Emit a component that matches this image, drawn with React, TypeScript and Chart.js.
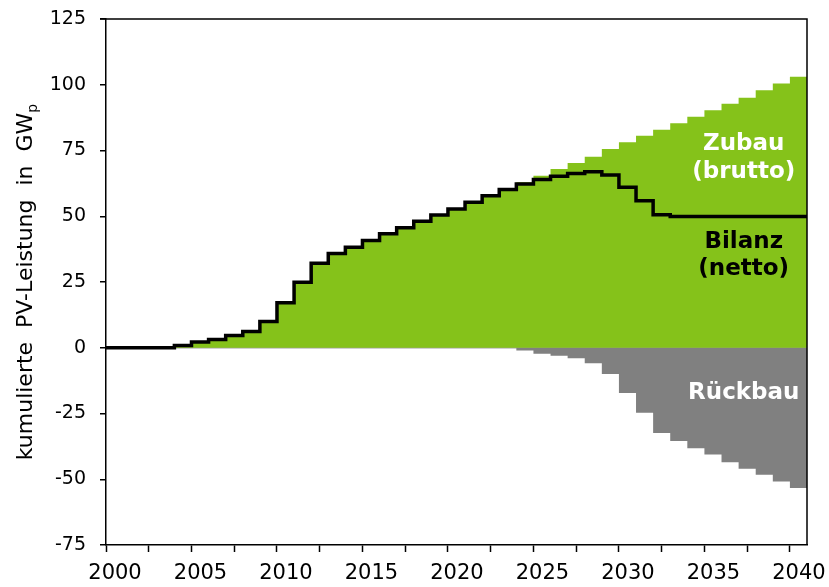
import React, { useEffect, useRef } from 'react';
import { Chart, registerables } from 'chart.js';

Chart.register(...registerables);

// ---- Data ----
const years = [
  2000, 2001, 2002, 2003, 2004, 2005, 2006, 2007, 2008, 2009,
  2010, 2011, 2012, 2013, 2014, 2015, 2016, 2017, 2018, 2019,
  2020, 2021, 2022, 2023, 2024, 2025, 2026, 2027, 2028, 2029,
  2030, 2031, 2032, 2033, 2034, 2035, 2036, 2037, 2038, 2039,
  2040,
];

// Bilanz (netto): cumulative net PV capacity, GWp
const bilanzNetto = [
  0, 0, 0, 0, 0.9, 2.2, 3.1, 4.7, 6.2, 10.0,
  17.1, 24.9, 32.1, 35.8, 38.2, 40.8, 43.3, 45.6, 48.1, 50.5,
  52.8, 55.3, 57.8, 60.2, 62.3, 64.0, 65.2, 66.3, 66.9, 65.7,
  61.0, 55.9, 50.6, 49.9, 49.9, 49.9, 49.9, 49.9, 49.9, 49.9,
  49.9,
];

// Zubau (brutto): cumulative gross additions, GWp
const zubauBrutto = [
  0, 0, 0, 0, 0.9, 2.2, 3.1, 4.7, 6.2, 10.0,
  17.1, 24.9, 32.1, 35.8, 38.2, 40.8, 43.3, 45.6, 48.1, 50.5,
  52.8, 55.3, 57.8, 60.2, 62.9, 65.4, 68.0, 70.2, 72.6, 75.6,
  78.1, 80.6, 82.9, 85.4, 87.8, 90.3, 92.8, 95.1, 97.9, 100.5,
  103.0,
];

// Rückbau: cumulative decommissioning, GWp (negative)
const rueckbau = [
  0, 0, 0, 0, 0, 0, 0, 0, 0, 0,
  0, 0, 0, 0, 0, 0, 0, 0, 0, 0,
  0, 0, 0, 0, -1.0, -2.3, -3.0, -4.0, -5.9, -10.0,
  -17.2, -24.7, -32.4, -35.5, -38.2, -40.6, -43.5, -46.0, -48.3, -50.9,
  -53.3,
];

const xMin = 2000;
const xMax = 2041;
const yMin = -75;
const yMax = 125;
const yStep = 25;
const xMinorStep = 2.5;
const xLabelStep = 5;

const axisTitle = 'kumulierte  PV-Leistung  in  GW';
const axisTitleSub = 'p';

const GREEN = '#85C21A';
const GRAY = '#808080';
const FONT = '"DejaVu Sans", Verdana, sans-serif';

function toPoints(vals: number[]) {
  const pts = years.map((yr, i) => ({ x: yr, y: vals[i] }));
  pts.push({ x: xMax, y: vals[vals.length - 1] });
  return pts;
}

const framePlugin = {
  id: 'frame',
  afterDatasetsDraw(chart: any) {
    const { ctx, chartArea } = chart;
    const { left, right, top, bottom } = chartArea;
    ctx.save();
    ctx.strokeStyle = '#000';
    ctx.lineWidth = 1.5;
    ctx.beginPath();
    ctx.moveTo(left - 6, top);
    ctx.lineTo(right, top);
    ctx.lineTo(right, bottom);
    ctx.stroke();
    ctx.restore();
  },
};

const labelsPlugin = {
  id: 'areaLabels',
  afterDatasetsDraw(chart: any) {
    const { ctx } = chart;
    const xs = chart.scales.x;
    const ys = chart.scales.y;
    const cx = xs.getPixelForValue(2037.3);
    ctx.save();
    ctx.textAlign = 'center';
    ctx.textBaseline = 'alphabetic';
    ctx.font = `bold 23px ${FONT}`;
    const put = (t: string, v: number, color: string) => {
      ctx.fillStyle = color;
      ctx.fillText(t, cx, ys.getPixelForValue(v));
    };
    put('Zubau', 75.3, '#fff');
    put('(brutto)', 64.7, '#fff');
    put('Bilanz', 38.1, '#000');
    put('(netto)', 27.5, '#000');
    put('Rückbau', -19.6, '#fff');
    ctx.restore();
  },
};

const yTitlePlugin = {
  id: 'yTitle',
  afterDraw(chart: any) {
    const { ctx } = chart;
    ctx.save();
    ctx.translate(26, 282);
    ctx.rotate(-Math.PI / 2);
    ctx.fillStyle = '#000';
    ctx.textBaseline = 'middle';
    ctx.font = `22px ${FONT}`;
    const w1 = ctx.measureText(axisTitle).width;
    ctx.font = `14px ${FONT}`;
    const w2 = ctx.measureText(axisTitleSub).width;
    const total = w1 + w2;
    ctx.textAlign = 'left';
    ctx.font = `22px ${FONT}`;
    ctx.fillText(axisTitle, -total / 2, 0);
    ctx.font = `14px ${FONT}`;
    ctx.fillText(axisTitleSub, -total / 2 + w1, 7);
    ctx.restore();
  },
};

export default function App() {
  const ref = useRef<HTMLCanvasElement>(null);

  useEffect(() => {
    if (!ref.current) return;
    const chart = new Chart(ref.current, {
      type: 'line',
      data: {
        datasets: [
          {
            label: 'Bilanz (netto)',
            data: toPoints(bilanzNetto),
            stepped: true,
            borderColor: '#000',
            borderWidth: 3.5,
            fill: false,
            pointRadius: 0,
          },
          {
            label: 'Zubau (brutto)',
            data: toPoints(zubauBrutto),
            stepped: true,
            borderWidth: 0,
            borderColor: GREEN,
            backgroundColor: GREEN,
            fill: 'origin',
            pointRadius: 0,
          },
          {
            label: 'Rückbau',
            data: toPoints(rueckbau),
            stepped: true,
            borderWidth: 0,
            borderColor: GRAY,
            backgroundColor: GRAY,
            fill: 'origin',
            pointRadius: 0,
          },
        ],
      },
      options: {
        animation: false,
        responsive: false,
        maintainAspectRatio: false,
        layout: { padding: { left: 0, right: 22, top: 19, bottom: 0 } },
        plugins: {
          legend: { display: false },
          tooltip: { enabled: false },
        },
        elements: { point: { radius: 0 }, line: { tension: 0 } },
        scales: {
          x: {
            type: 'linear',
            min: xMin,
            max: xMax,
            ticks: {
              stepSize: xMinorStep,
              includeBounds: false,
              autoSkip: false,
              maxRotation: 0,
              color: '#000',
              padding: 9,
              labelOffset: 9,
              font: { family: FONT, size: 21 },
              callback: (v: any) => (Number(v) % xLabelStep === 0 ? String(v) : ''),
            },
            grid: {
              drawOnChartArea: false,
              drawTicks: true,
              tickLength: 7,
              tickColor: '#000',
              tickWidth: 1.5,
            },
            border: { display: true, color: '#000', width: 1.5 },
            afterFit: (s: any) => {
              s.height = 42;
              s.paddingLeft = 0;
              s.paddingRight = 0;
            },
          },
          y: {
            type: 'linear',
            min: yMin,
            max: yMax,
            ticks: {
              stepSize: yStep,
              color: '#000',
              padding: 14,
              font: { family: FONT, size: 19 },
            },
            grid: {
              drawOnChartArea: true,
              color: (c: any) => (c.tick && c.tick.value === 0 ? '#a0a0a0' : 'rgba(0,0,0,0)'),
              lineWidth: 1.5,
              tickColor: '#000',
              tickLength: 6,
              tickWidth: 1.5,
            },
            border: { display: true, color: '#000', width: 1.5 },
            afterFit: (s: any) => {
              s.width = 106;
              s.paddingTop = 0;
              s.paddingBottom = 0;
            },
          },
        },
      },
      plugins: [framePlugin, labelsPlugin, yTitlePlugin],
    } as any);
    return () => chart.destroy();
  }, []);

  return (
    <div style={{ position: 'fixed', left: 0, top: 0, width: 829, height: 587, background: '#fff' }}>
      <canvas ref={ref} width={829} height={587} style={{ width: 829, height: 587, display: 'block' }} />
    </div>
  );
}
